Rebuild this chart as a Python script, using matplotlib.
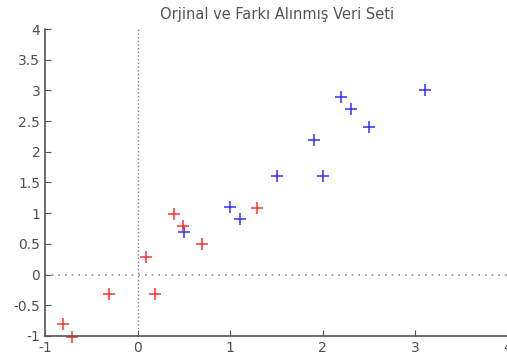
import numpy as np
import matplotlib.pyplot as plt

# original data
x_orig = [2.5, 0.5, 2.2, 1.9, 3.1, 2.3, 2.0, 1.0, 1.5, 1.1]
y_orig = [2.4, 0.7, 2.9, 2.2, 3.0, 2.7, 1.6, 1.1, 1.6, 0.9]

# mean adjusted data
x_adj = [0.69, -1.31, 0.39, 0.09, 1.29, 0.49, 0.19, -0.81, -0.31, -0.71]
y_adj = [0.49, -1.21, 0.99, 0.29, 1.09, 0.79, -0.31, -0.81, -0.31, -1.01]

x_ticks = [-1, 0, 1, 2, 3, 4]
y_ticks = [-1, -0.5, 0, 0.5, 1, 1.5, 2, 2.5, 3, 3.5, 4]

plt.rcParams['font.family'] = ['DejaVu Sans']

fig = plt.figure(figsize=(5.07, 3.54), dpi=100)
ax = fig.add_axes([0.089, 0.051, 0.913, 0.867])

xlim = (-1, 4)
ylim = (-1, 4)


def plot_pts(xs, ys, color):
    # like matlab: markers whose centre is inside the axes are drawn whole
    xs = np.array(xs)
    ys = np.array(ys)
    m = (xs >= xlim[0] - 0.02) & (xs <= xlim[1]) & (ys >= ylim[0] - 0.02) & (ys <= ylim[1])
    ax.plot(xs[m], ys[m], '+', color=color, markersize=9, markeredgewidth=1.1, clip_on=False)


plot_pts(x_orig, y_orig, '#3030ff')
plot_pts(x_adj, y_adj, '#ff3030')

ax.axvline(0, color='#808080', linestyle=':', linewidth=1)
ax.axhline(0, color='#909090', linestyle=(0, (1, 3)), linewidth=1.2)

ax.set_xlim(*xlim)
ax.set_ylim(*ylim)
ax.set_xticks(x_ticks)
ax.set_yticks(y_ticks)
ax.set_xticklabels([f'{v:g}' for v in x_ticks])
ax.set_yticklabels([f'{v:g}' for v in y_ticks])

for s in ['top', 'right']:
    ax.spines[s].set_visible(False)
for s in ['left', 'bottom']:
    ax.spines[s].set_color('#555555')
    ax.spines[s].set_linewidth(1.2)
ax.tick_params(direction='in', length=4, color='#555555', labelcolor='#505050', labelsize=10)

ax.set_title('Orjinal ve Farkı Alınmış Veri Seti', fontsize=10.5, color='#555555', pad=7)

fig.savefig('out.png', dpi=100)
